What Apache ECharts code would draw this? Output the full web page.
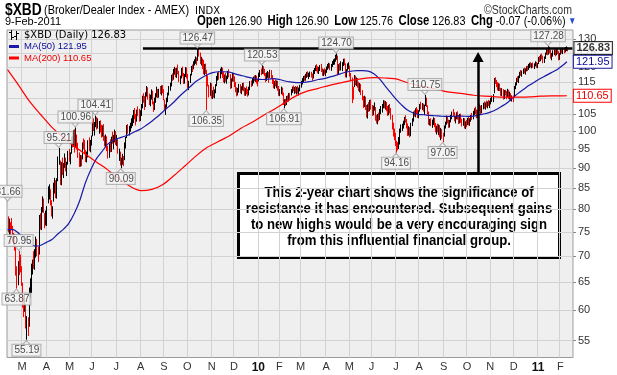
<!DOCTYPE html>
<html lang="en">
<head>
<meta charset="UTF-8">
<title>$XBD Broker/Dealer Index</title>
<style>
  html, body { margin: 0; padding: 0; background: #fff; }
  #main { width: 617px; height: 375px; }
</style>
</head>
<body>
<div id="main"></div>
<script src="https://cdn.jsdelivr.net/npm/echarts@6/dist/echarts.min.js"></script>
<script>
// trading calendar: weekdays between these dates minus exchange holidays
var firstDay = '2009-02-10';
var lastDay = '2011-02-16';   // a few empty sessions right of the last bar
var holidays = ['2009-02-16', '2009-04-10', '2009-05-25', '2009-07-03', '2009-09-07', '2009-11-26',
  '2009-12-25', '2010-01-01', '2010-01-18', '2010-02-15', '2010-04-02', '2010-05-31', '2010-07-05',
  '2010-09-06', '2010-11-25', '2010-12-24', '2011-01-17'];

// daily bars, 10 Feb 2009 .. 9 Feb 2011
var high = [
  78.3,77.8,77.0,77.9,76.2,74.6,74.5,72.0,67.9,68.9, 70.95,70.2,67.9,64.8,62.5,62.8,61.0,58.9,58.7,63.9,
  65.6,68.4,69.2,70.9,71.3,73.9,73.4,71.8,78.6,79.0, 80.4,82.9,82.4,79.0,79.6,80.6,85.3,85.8,84.6,82.0,
  80.6,86.2,87.4,86.8,87.3,92.9,95.21,91.8,91.4,92.6, 91.2,93.7,92.6,91.5,94.4,94.9,94.0,98.3,98.5,100.1,
  100.4,100.96,98.9,96.6,94.0,93.3,93.2,96.7,97.8,97.4, 94.6,94.2,97.3,98.1,97.4,98.6,102.6,103.6,102.5,104.41,
  104.0,103.6,102.8,103.0,101.7,101.5,101.9,98.6,98.9,98.4, 95.8,96.4,97.6,98.3,99.7,98.8,100.3,99.9,98.8,97.6,
  95.0,94.2,92.6,93.6,93.0,96.7,98.2,101.6,101.9,101.4, 102.3,103.6,104.5,106.1,106.7,104.9,106.2,107.2,106.4,106.0,
  107.9,110.5,111.3,110.4,111.6,113.6,113.2,111.2,110.8,112.5, 112.1,108.7,109.9,111.3,113.4,112.6,112.7,113.6,113.8,113.9,
  112.6,109.3,107.8,109.9,111.5,113.6,114.7,117.3,117.8,119.3, 120.0,119.6,119.7,120.8,118.6,117.0,119.6,120.1,117.9,117.6,
  119.9,119.8,117.6,115.3,117.6,120.3,120.8,121.9,122.6,123.6, 123.3,126.47,126.3,125.0,123.5,122.9,122.4,121.0,121.1,119.0,
  117.1,114.0,114.7,114.5,112.2,113.4,112.5,114.2,116.9,118.1, 118.5,119.4,120.0,119.7,118.2,117.4,117.9,117.0,118.6,119.2,
  117.5,116.1,117.9,117.6,116.8,114.9,113.2,113.0,114.3,114.2, 113.5,114.6,114.7,113.2,112.9,113.5,112.6,113.4,115.2,115.4,
  116.3,116.7,117.1,117.2,117.0,115.9,118.0,118.9,119.4,120.53, 120.2,119.3,117.9,118.1,118.6,118.2,119.0,118.9,117.2,115.8,
  115.2,115.8,115.4,115.3,113.6,112.6,113.4,113.1,111.5,109.4, 109.5,110.4,110.6,111.4,111.3,112.6,113.4,113.8,113.3,113.6,
  113.3,113.7,113.1,114.0,115.3,116.2,116.9,117.1,117.6,118.2, 118.5,118.0,118.4,118.3,117.7,118.9,119.6,120.5,120.9,120.2,
  120.0,120.6,121.0,119.5,119.1,119.5,119.1,120.1,121.0,121.4, 121.2,121.0,122.0,122.6,122.9,124.2,124.70,123.9,120.9,121.3,
  121.9,121.6,122.8,122.9,121.2,119.2,121.2,121.6,120.4,117.9, 116.4,113.4,117.2,117.0,116.4,116.2,115.0,114.6,114.3,112.3,
  110.4,110.5,110.2,107.6,107.8,108.5,109.2,109.3,107.6,107.4, 108.4,107.0,104.6,104.9,105.3,106.4,107.3,107.9,109.1,109.0,
  108.8,108.5,107.3,107.6,107.9,106.7,104.6,102.3,100.6,99.4, 97.2,96.8,98.2,100.6,101.8,102.0,102.9,104.0,104.5,103.4,
  102.1,101.3,101.0,102.3,103.6,105.6,106.0,106.6,107.0,106.3, 106.0,107.9,108.6,108.2,108.0,107.7,110.75,109.9,107.5,105.6,
  103.4,103.6,103.2,103.9,103.7,102.2,101.4,102.0,101.8,101.6, 100.8,100.5,99.4,101.5,102.6,104.4,104.1,103.2,103.1,104.6,
  105.6,106.4,105.4,104.3,105.4,105.7,104.6,104.9,105.0,103.5, 103.7,103.6,102.7,103.1,103.7,104.0,103.6,104.6,105.2,105.8,
  106.6,107.1,106.2,106.1,107.3,108.0,107.4,107.6,108.3,108.7, 108.4,109.0,108.7,109.2,108.9,109.8,110.5,111.0,116.2,116.5,
  115.6,114.9,114.5,114.4,113.0,112.9,112.6,112.3,112.4,112.0, 112.7,112.4,111.8,111.3,110.6,110.6,113.6,114.8,116.3,116.8,
  117.0,118.3,118.9,118.7,119.4,119.7,119.5,120.2,120.4,121.0, 121.4,121.6,121.2,121.5,121.2,121.9,121.7,121.3,123.4,123.8,
  124.3,124.6,123.9,123.6,125.0,126.4,126.2,127.28,127.1,126.0, 124.8,125.8,126.2,126.1,126.5,126.3,125.5,124.8,126.4,126.6,
  126.3,126.7,127.0,127.2,126.9
];
var low = [
  75.0,74.5,72.6,75.6,73.0,72.4,71.2,66.3,63.87,64.5, 66.4,66.9,64.4,60.5,58.9,59.8,57.0,55.19,55.8,57.3,
  62.2,63.1,66.5,67.6,67.4,69.8,70.1,68.9,70.4,75.6, 75.5,79.4,79.3,75.9,76.5,76.4,81.5,82.4,81.0,78.5,
  78.0,81.9,83.8,82.7,82.6,86.8,91.0,85.9,85.8,88.4, 87.6,90.2,89.3,88.1,91.0,91.8,91.1,93.9,95.6,95.8,
  94.2,95.6,95.0,92.8,90.4,90.5,90.6,92.4,95.1,93.8, 91.7,91.6,92.9,94.6,94.3,96.1,98.7,100.2,98.9,101.3,
  100.6,100.9,99.4,99.8,98.3,98.6,97.4,95.9,95.6,94.6, 92.6,92.8,94.3,94.4,96.6,95.1,97.0,96.3,96.0,93.9,
  92.0,90.8,90.09,91.0,90.6,92.2,95.3,98.2,99.4,98.9, 100.0,101.0,101.6,102.5,103.6,101.8,102.9,104.5,102.9,103.1,
  104.6,106.9,108.6,106.4,107.3,110.5,109.6,107.9,107.5,109.6, 108.1,105.8,106.4,108.6,110.3,110.1,110.2,111.3,110.9,111.6,
  109.4,106.4,104.9,107.1,108.8,110.9,112.4,113.8,115.6,116.0, 117.7,116.8,116.6,117.8,115.2,114.5,116.4,117.1,114.6,114.7,
  116.9,116.4,113.3,112.6,114.9,117.4,118.6,119.5,120.8,121.4, 120.9,122.4,123.9,121.3,120.8,119.6,117.8,117.5,117.9,106.35,
  113.8,110.3,110.8,109.9,109.8,110.2,110.0,111.6,113.9,115.7, 116.0,116.4,117.8,116.6,115.1,114.8,115.3,114.7,116.2,116.8,
  113.0,113.2,115.4,115.3,113.6,111.9,110.6,110.9,111.8,111.6, 111.3,112.5,112.2,110.8,110.8,111.3,110.5,110.9,112.6,113.6,
  114.0,114.8,115.5,115.3,114.7,113.8,115.4,116.9,117.5,117.9, 117.8,117.2,115.2,115.6,116.6,115.0,116.6,116.2,114.6,113.2,
  113.0,113.8,113.2,112.4,110.8,110.7,111.3,110.9,107.9,106.91, 107.6,107.9,108.9,109.0,109.4,110.9,111.7,112.2,111.4,111.6,
  111.2,111.5,110.9,112.2,113.4,114.4,115.2,115.6,115.7,116.6, 116.9,116.2,116.9,116.7,115.6,116.4,117.9,118.9,118.8,118.1,
  117.9,118.9,118.6,117.3,117.2,117.7,117.2,118.3,119.3,119.8, 119.2,119.0,120.3,121.0,121.1,122.1,122.8,117.6,117.8,119.0,
  119.1,118.9,120.6,120.9,116.8,116.7,119.0,119.6,117.0,115.4, 108.5,109.6,113.6,114.2,113.9,113.4,112.3,111.9,111.0,109.4,
  107.0,107.3,106.4,104.1,103.8,105.8,106.0,106.5,104.6,104.8, 106.2,103.2,102.4,102.1,103.0,103.4,105.1,105.6,106.9,106.9,
  106.5,106.0,104.6,104.8,105.3,103.5,100.6,98.6,97.6,96.0, 94.16,94.8,95.2,96.4,99.7,100.2,100.9,101.9,102.6,100.9,
  98.8,98.9,98.4,98.7,101.6,102.9,104.4,104.2,105.2,104.0, 103.9,105.9,106.6,106.4,105.9,104.9,107.6,107.3,105.1,102.0,
  101.8,101.6,101.1,101.9,101.3,99.8,99.2,99.8,99.0,98.4, 97.6,98.0,97.05,98.6,100.9,102.0,102.4,101.1,101.2,102.7,
  103.6,104.6,103.0,102.4,103.6,103.5,102.2,102.4,102.6,101.5, 101.7,100.9,100.8,101.3,101.9,101.8,101.7,102.9,103.4,103.6,
  104.9,105.1,103.9,103.9,105.3,106.1,105.2,105.4,106.6,106.8, 106.5,107.2,106.9,107.6,107.0,108.1,108.9,108.8,111.6,114.6,
  113.6,112.5,112.3,112.3,110.8,110.7,109.6,109.8,110.9,109.7, 110.4,109.8,109.6,109.1,109.0,108.8,110.3,112.9,114.1,115.2,
  114.9,116.5,117.3,117.0,117.9,118.1,117.7,118.8,118.9,119.3, 119.9,120.2,119.8,120.0,119.6,120.5,120.0,119.9,121.3,122.0,
  122.3,122.9,121.6,121.7,123.1,124.6,124.4,124.6,125.0,123.2, 122.6,123.9,124.5,124.0,124.4,124.8,122.6,122.8,124.6,125.0,
  124.8,125.1,125.4,125.9,125.76
];
var close = [
  75.6,76.9,76.5,76.0,73.4,74.1,71.6,66.8,64.2,68.3, 67.6,67.3,65.8,60.9,59.6,61.7,57.4,57.9,56.3,63.5,
  64.0,67.9,68.2,67.9,71.0,72.5,70.6,69.4,78.2,76.1, 79.6,82.3,79.8,76.6,78.1,80.2,84.1,84.9,81.7,78.9,
  80.1,85.8,86.5,83.4,86.9,92.4,93.3,86.4,90.9,88.9, 90.6,92.8,89.8,90.8,93.6,92.5,93.2,97.9,96.4,99.6,
  95.1,99.8,95.7,94.1,90.9,92.7,91.3,96.3,96.0,94.5, 92.4,93.5,96.9,95.0,96.8,98.2,102.1,101.0,102.0,103.8,
  101.1,101.4,102.3,100.4,99.1,100.9,97.9,96.6,98.4,95.1, 93.2,95.9,94.8,97.9,97.2,98.1,99.8,96.8,98.2,94.3,
  94.6,91.3,91.7,92.1,91.6,96.4,97.8,101.2,100.3,100.9, 101.9,102.8,103.9,105.7,104.2,102.6,105.8,105.1,103.5,105.4,
  107.4,110.1,109.2,107.0,111.2,112.9,110.3,108.6,110.2,111.9, 108.8,106.6,109.5,110.7,112.9,111.0,112.3,112.0,113.2,112.4,
  110.1,107.1,107.4,109.5,111.2,113.3,114.0,117.0,116.2,118.9, 119.4,117.3,119.2,118.4,115.8,116.6,119.1,117.6,115.2,117.3,
  119.5,117.0,113.9,114.7,117.2,119.8,119.3,121.5,122.2,123.1, 121.6,126.0,125.4,121.8,123.0,120.3,118.2,120.6,118.4,116.0,
  114.3,110.7,114.2,110.5,111.6,110.8,112.0,113.5,116.5,117.6, 116.6,118.9,119.2,117.1,115.6,117.0,115.8,116.5,118.2,117.4,
  113.6,115.7,117.3,115.8,114.3,112.3,111.2,112.6,113.8,112.1, 113.1,114.2,112.7,111.4,112.5,111.9,111.0,112.9,114.8,114.3,
  115.9,116.4,116.0,116.8,115.1,114.4,117.6,118.3,118.2,119.9, 118.5,117.7,115.8,117.6,118.3,115.5,118.6,116.7,115.0,113.7,
  114.6,114.3,115.0,112.8,111.2,112.2,112.9,111.4,108.3,108.9, 108.0,110.0,109.5,111.1,110.7,112.3,113.0,112.7,112.9,112.1,
  112.8,112.0,112.7,113.6,115.0,115.9,116.5,116.0,117.3,117.9, 117.4,117.7,118.0,117.2,116.1,118.6,119.3,120.1,119.4,118.6,
  119.7,120.2,119.1,117.8,118.8,118.1,118.7,119.8,120.6,120.9, 119.7,120.6,121.7,122.1,122.6,123.9,124.1,118.5,120.4,119.6,
  120.0,121.2,122.3,121.4,117.3,118.8,120.8,121.2,117.5,116.0, 112.3,110.6,116.8,114.8,115.9,113.9,112.8,114.1,111.5,109.9,
  107.5,110.1,106.9,104.6,107.3,106.3,108.8,107.0,105.1,107.0, 107.8,103.7,102.9,104.5,103.6,106.0,106.7,107.4,108.6,107.6,
  108.2,106.6,105.1,107.2,105.9,104.0,101.1,99.2,98.9,96.5, 95.6,95.3,96.2,100.3,101.0,101.6,102.3,103.6,103.1,101.4,
  99.2,100.8,98.9,102.0,103.1,105.3,105.0,106.2,105.9,104.6, 105.6,107.6,107.1,107.8,106.6,107.3,110.2,107.9,105.6,102.4,
  103.0,102.2,102.7,103.4,101.8,100.3,100.9,100.4,101.4,98.9, 100.3,98.5,98.1,101.2,102.2,104.0,102.9,101.6,102.8,104.2,
  105.2,105.1,103.4,104.0,105.0,104.0,102.6,104.6,103.0,102.0, 103.3,101.4,102.3,101.8,103.4,102.3,103.3,104.4,104.0,105.5,
  106.2,105.6,104.4,105.8,106.9,106.7,105.7,107.2,107.9,107.3, 108.1,107.6,108.4,108.0,108.6,109.3,110.1,110.6,115.7,115.5,
  114.0,112.9,114.1,112.8,111.3,112.4,110.0,111.9,111.4,110.2, 112.3,110.3,111.4,109.6,110.3,109.4,113.3,114.5,116.0,115.6,
  116.6,118.0,117.8,118.4,118.9,118.6,119.2,119.9,119.4,120.7, 121.1,120.6,120.9,120.4,121.0,121.5,120.5,121.0,123.0,122.5,
  124.0,123.4,122.3,123.2,124.7,126.0,124.9,126.8,125.6,123.7, 124.4,125.4,125.9,124.5,126.0,125.3,123.0,124.5,126.1,125.5,
  126.0,125.7,126.7,126.9,126.83
];
var lastOpen = 126.90;

// moving averages, one value every 5 / 10 sessions (last one = last bar)
var ma50Step = 5;
var ma50 = [
  75.5,75.5,74.7,73.6,72.6,72.0,72.2,72.8,73.4,74.5, 75.5,76.8,79.0,82.0,86.2,89.6,92.4,94.3,96.3,97.4,
  98.0,98.5,99.1,99.9,100.6,101.7,102.9,104.2,105.7,107.2, 108.7,110.5,112.1,113.7,115.3,116.5,117.5,118.2,118.5,118.5,
  118.4,117.8,117.3,116.8,116.4,116.0,115.9,116.0,116.2,115.9, 115.4,115.1,114.9,114.9,115.1,115.4,115.9,116.2,116.7,117.2,
  117.8,118.4,118.7,118.9,118.9,118.7,117.8,116.2,113.9,111.7, 109.6,107.8,106.3,105.4,104.9,104.8,104.6,104.5,104.4,104.3,
  104.3,104.4,104.4,104.3,104.4,104.8,105.1,105.6,106.3,107.3, 108.4,109.9,111.4,112.7,114.0,115.1,116.2,117.2,118.2,119.2,
  120.6,121.95
];
var ma200Step = 10;
var ma200 = [
  119.2,114.0,108.8,104.8,101.1,98.3,95.8,93.7,91.6,89.6, 87.4,85.5,84.4,84.7,85.9,88.1,90.6,93.2,95.5,97.1,
  98.7,100.8,102.5,104.5,106.4,108.5,110.6,112.1,113.0,114.0, 114.8,115.6,116.2,116.5,116.4,116.1,114.9,114.0,113.2,112.4,
  111.7,111.3,110.8,110.5,110.3,110.2,110.2,110.3,110.5,110.6, 110.6,110.65
];

// swing high / low callouts
var highNoteIdx = [0, 10, 46, 61, 79, 171, 229, 296, 376, 487];
var highNoteVal = [81.66, 70.95, 95.21, 100.96, 104.41, 126.47, 120.53, 124.70, 110.75, 127.28];
var lowNoteIdx = [8, 17, 102, 179, 249, 350, 392];
var lowNoteVal = [63.87, 55.19, 90.09, 106.35, 106.91, 94.16, 97.05];

// resistance line and arrow drawn by the analyst
var resistance = 126.9;
var resistanceFrom = 122;
var arrowIdx = 424;
var arrowFrom = 88.6;
var arrowTo = 123.6;

var priceTicks = [55, 60, 65, 70, 75, 80, 85, 90, 95, 100, 105, 110, 115, 120, 125, 130];
var monthInitials = 'JFMAMJJASOND';
var monthNames = ['Jan','Feb','Mar','Apr','May','Jun','Jul','Aug','Sep','Oct','Nov','Dec'];

var SANS = "'Liberation Sans', Arial, sans-serif";
var NARROW = 0.81;   // horizontal squeeze for the narrow StockCharts lettering

// build the session list
var dates = [];
var d = new Date(firstDay + 'T00:00:00Z');
var dEnd = new Date(lastDay + 'T00:00:00Z');
while (d <= dEnd) {
  var s = d.toISOString().slice(0, 10);
  var wd = d.getUTCDay();
  if (wd !== 0 && wd !== 6 && holidays.indexOf(s) < 0) dates.push(s);
  d.setUTCDate(d.getUTCDate() + 1);
}
function isMonthStart(i) {
  return i > 0 && dates[i].slice(5, 7) !== dates[i - 1].slice(5, 7);
}

var last = close.length - 1;
var bars = close.map(function (c, i) {
  return [i, low[i], high[i], c, i > 0 && c >= close[i - 1] ? 1 : 0];
});
function sampled(vals, step) {
  return vals.map(function (v, k) { return [Math.min(k * step, last), v]; });
}
function pairs(idx, vals) {
  return idx.map(function (i, k) { return [i, vals[k]]; });
}

var chg = close[last] - close[last - 1];
var pct = chg / close[last - 1] * 100;
var ld = dates[last].split('-');
var lastDateText = (+ld[2]) + '-' + monthNames[+ld[1] - 1] + '-' + ld[0];

var xbdName = '$XBD (Daily) ' + close[last].toFixed(2);
var ma50Name = 'MA(50) ' + ma50[ma50.length - 1].toFixed(2);
var ma200Name = 'MA(200) ' + ma200[ma200.length - 1].toFixed(2);

var noteLabel = {
  show: true, fontFamily: SANS, fontSize: 10, color: '#222',
  backgroundColor: '#f6f6f6', borderColor: '#a0a0a0', borderWidth: 1, padding: [1, 1, 0, 2],
  formatter: function (p) { return p.value[1].toFixed(2); }
};
function tagLabel(color, border, bold) {
  return { show: true, distance: 7, formatter: function (p) { return p.value[1].toFixed(2); },
    fontFamily: SANS, fontSize: 11, fontWeight: bold ? 'bold' : 'normal', color: color,
    backgroundColor: '#fff', borderColor: border, borderWidth: 1, padding: [1, 2, 0, 2] };
}

var myChart = echarts.init(document.getElementById('main'));
var option = {
  animation: false,
  backgroundColor: '#fff',
  grid: { left: 7, top: 30, right: 44, bottom: 17.5, show: true, backgroundColor: '#efefef', borderColor: '#9a9a9a', borderWidth: 1 },
  legend: {
    left: 9, top: 30, orient: 'vertical', itemGap: 1.5, itemWidth: 10, itemHeight: 10,
    selectedMode: false, padding: 0,
    data: [
      { name: xbdName, icon: 'path://M2,0h1v10h-1z M0,2h2v1h-2z M3,7h2v1h-2z M7,1h1v9h-1z M5,6h2v1h-2z M8,3h2v1h-2z',
        itemStyle: { color: '#000' }, textStyle: { color: '#000', fontFamily: 'DejaVu Sans', fontSize: 10 } },
      { name: ma50Name, icon: 'path://M0,0h10v3h-10z', itemStyle: { color: '#1a1aa8' },
        textStyle: { color: '#0a0a9a', fontFamily: SANS, fontSize: 9.5 } },
      { name: ma200Name, icon: 'path://M0,0h10v3h-10z', itemStyle: { color: '#ff0000' },
        textStyle: { color: '#ee0000', fontFamily: SANS, fontSize: 9.5 } }
    ]
  },
  xAxis: {
    type: 'category', data: dates, boundaryGap: true,
    axisLine: { show: false }, axisTick: { show: false },
    axisLabel: {
      interval: function (i) { return isMonthStart(i); },
      formatter: function (v) {
        var m = +v.slice(5, 7);
        return m === 1 ? '{yr|' + v.slice(2, 4) + '}' : monthInitials.charAt(m - 1);
      },
      margin: 4, fontFamily: SANS, fontSize: 11, color: '#333',
      rich: { yr: { fontFamily: SANS, fontSize: 12, fontWeight: 'bold', color: '#111' } }
    },
    splitLine: { show: true, interval: function (i) { return isMonthStart(i); }, lineStyle: { color: '#d2d2d2', width: 1 } }
  },
  yAxis: {
    type: 'log', logBase: 10, min: 52.4, max: 133.5, position: 'right',
    axisLine: { show: false },
    axisTick: { show: true, length: 3, customValues: priceTicks, lineStyle: { color: '#888' } },
    axisLabel: { customValues: priceTicks, margin: 5, fontFamily: SANS, fontSize: 11, color: '#333' },
    splitLine: { show: true, lineStyle: { color: '#d2d2d2', width: 1 } },
    minorTick: { show: false }, minorSplitLine: { show: false }
  },
  series: [
    {
      name: xbdName, type: 'custom', data: bars, z: 2,
      encode: { x: 0, y: [1, 2] },
      itemStyle: { color: '#000' },
      renderItem: function (params, api) {
        var i = api.value(0);
        var lo = api.coord([i, api.value(1)]);
        var hi = api.coord([i, api.value(2)]);
        var x = Math.round(lo[0]) + 0.5;
        return {
          type: 'line',
          shape: { x1: x, y1: lo[1] + 0.5, x2: x, y2: hi[1] - 0.5 },
          style: { stroke: api.value(4) ? '#000' : '#ff0000', lineWidth: 1 }
        };
      }
    },
    {
      name: ma50Name, type: 'line', data: sampled(ma50, ma50Step), smooth: 0.3, showSymbol: false, z: 3,
      lineStyle: { color: '#1a1aa8', width: 1.2 },
      endLabel: tagLabel('#0a0a9a', '#1a1aa8', false)
    },
    {
      name: ma200Name, type: 'line', data: sampled(ma200, ma200Step), smooth: 0.3, showSymbol: false, z: 3,
      lineStyle: { color: '#ff0000', width: 1.2 },
      endLabel: tagLabel('#ee0000', '#ff0000', false)
    },
    {
      name: 'marks', type: 'line', data: [], z: 4,
      markLine: {
        silent: true, animation: false, label: { show: false },
        lineStyle: { color: '#000', width: 2.5, type: 'solid' },
        data: [
          [{ coord: [resistanceFrom, resistance], symbol: 'none' }, { coord: [dates.length - 1, resistance], symbol: 'none' }],
          [{ coord: [arrowIdx, arrowFrom], symbol: 'none' }, { coord: [arrowIdx, arrowTo], symbol: 'triangle', symbolSize: [11, 10] }]
        ]
      }
    },
    {
      name: 'highs', type: 'scatter', data: pairs(highNoteIdx, highNoteVal), z: 5,
      symbol: 'triangle', symbolSize: [7, 4], symbolRotate: 180, symbolOffset: [0, -3],
      itemStyle: { color: '#f6f6f6', borderColor: '#a0a0a0', borderWidth: 1 },
      label: Object.assign({ position: 'top', distance: 0 }, noteLabel)
    },
    {
      name: 'lows', type: 'scatter', data: pairs(lowNoteIdx, lowNoteVal), z: 5,
      symbol: 'triangle', symbolSize: [7, 4], symbolOffset: [0, 3],
      itemStyle: { color: '#f6f6f6', borderColor: '#a0a0a0', borderWidth: 1 },
      label: Object.assign({ position: 'bottom', distance: 0 }, noteLabel)
    },
    {
      name: 'lastClose', type: 'scatter', data: [[last, close[last]]], z: 6,
      symbolSize: 1, itemStyle: { color: 'rgba(0,0,0,0)' },
      label: Object.assign({ position: 'right' }, tagLabel('#000', '#000', true))
    }
  ],
  graphic: [
    { type: 'text', x: 5, y: 2, scaleX: NARROW, style: { text: '$XBD', fontFamily: SANS, fontSize: 17, fontWeight: 'bold', fill: '#000', verticalAlign: 'top' } },
    { type: 'text', x: 44, y: 4, scaleX: 0.84, style: { text: '(Broker/Dealer Index - AMEX)', fontFamily: SANS, fontSize: 13, fill: '#000', verticalAlign: 'top' } },
    { type: 'text', x: 195, y: 6, style: { text: 'INDX', fontFamily: 'DejaVu Sans', fontSize: 10, fill: '#000', verticalAlign: 'top' } },
    { type: 'text', x: 484, y: 4, scaleX: NARROW, style: { text: '\u00a9StockCharts.com', fontFamily: SANS, fontSize: 13, fill: '#333', verticalAlign: 'top' } },
    { type: 'text', x: 5, y: 16, style: { text: lastDateText, fontFamily: SANS, fontSize: 11, fill: '#000', verticalAlign: 'top' } },
    { type: 'text', x: 197, y: 14, scaleX: 0.81, style: {
        text: '{b|Open} {v|' + lastOpen.toFixed(2) + '}  {b|High} {v|' + high[last].toFixed(2) + '}  {b|Low} {v|' +
          low[last].toFixed(2) + '}  {b|Close} {v|' + close[last].toFixed(2) + '}  {b|Chg} {v|' + chg.toFixed(2) +
          ' (' + pct.toFixed(2) + '%)} {t|\u25BC}', verticalAlign: 'top',
        rich: {
          b: { fontFamily: SANS, fontSize: 14, fontWeight: 'bold', fill: '#000' },
          v: { fontFamily: SANS, fontSize: 13.5, fill: '#000' },
          t: { fontFamily: SANS, fontSize: 10, fill: '#2a4bd8' }
        } } },
    { type: 'group', z: 100, children: [
      { type: 'rect', shape: { x: 238.5, y: 173.5, width: 321, height: 84 },
        style: { fill: '#fff', stroke: '#000', lineWidth: 3 } },
      { type: 'text', x: 399, y: 217, scaleX: 0.94, style: {
          text: 'This 2-year chart shows the significance of\nresistance it has encountered. Subsequent gains\nto new highs would be a very encouraging sign\nfrom this influential financial group.',
          fontFamily: SANS, fontSize: 14, fontWeight: 'bold', fill: '#000', lineHeight: 16,
          align: 'center', verticalAlign: 'middle' } }
    ] }
  ]
};
myChart.setOption(option);
</script>
</body>
</html>
